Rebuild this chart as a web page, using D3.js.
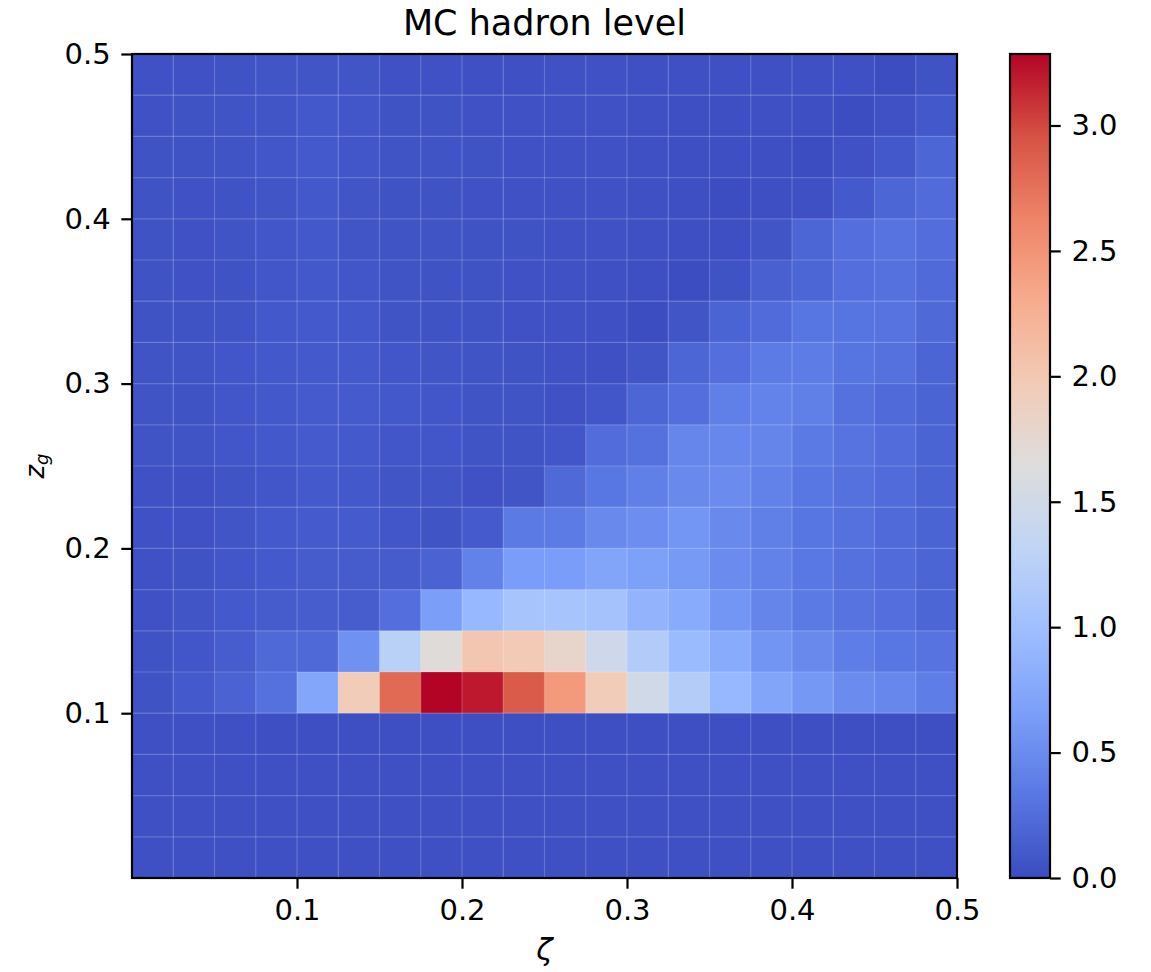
<!DOCTYPE html>
<html>
<head>
<meta charset="utf-8">
<script src="https://cdn.jsdelivr.net/npm/d3@7"></script>
<style>
  html, body { margin: 0; padding: 0; background: #ffffff; }
  svg { display: block; font-family: "DejaVu Sans", sans-serif; }
</style>
</head>
<body>
<svg id="chart" width="1151" height="972"></svg>
<script>
// ---------------- data ----------------
const chartTitle = "MC hadron level";
// bin edges (20 bins each, width 0.025)
const zetaEdges = d3.range(21).map(i => +(i * 0.025).toFixed(3));
const zgEdges = d3.range(21).map(i => +(i * 0.025).toFixed(3));
const xTickValues = [0.1, 0.2, 0.3, 0.4, 0.5];
const yTickValues = [0.1, 0.2, 0.3, 0.4, 0.5];
const cbarTickValues = [0.0, 0.5, 1.0, 1.5, 2.0, 2.5, 3.0];
const colorMax = 3.285;
// coolwarm anchor colours
const coolwarmColors = ["#3b4cc0", "#5977e3", "#7b9ff9", "#9ebeff", "#c0d4f5", "#dddddd",
                        "#f2cbb7", "#f7ac8e", "#ee8468", "#d65244", "#b40426"];
// density rows: first row = top z_g bin (0.475-0.5), last = bottom (0-0.025); columns = zeta bins
const density = [
  [0.04,0.04,0.05,0.07,0.07,0.07,0.04,0.04,0.03,0.03, 0.04,0.04,0.03,0.03,0.03,0.03,0.03,0.03,0.01,0.05],
  [0.04,0.05,0.06,0.07,0.09,0.08,0.05,0.05,0.04,0.04, 0.04,0.04,0.03,0.02,0.02,0.03,0.02,0.01,0.04,0.09],
  [0.05,0.05,0.06,0.08,0.10,0.08,0.06,0.06,0.05,0.04, 0.04,0.04,0.03,0.02,0.02,0.02,0.01,0.04,0.09,0.20],
  [0.05,0.04,0.05,0.07,0.09,0.07,0.05,0.05,0.04,0.04, 0.04,0.04,0.03,0.02,0.01,0.02,0.03,0.10,0.20,0.24],
  [0.05,0.04,0.06,0.08,0.09,0.07,0.06,0.06,0.05,0.05, 0.04,0.04,0.03,0.02,0.02,0.07,0.20,0.27,0.30,0.26],
  [0.05,0.04,0.05,0.08,0.09,0.08,0.06,0.05,0.05,0.04, 0.04,0.03,0.02,0.01,0.05,0.15,0.20,0.27,0.28,0.23],
  [0.05,0.05,0.06,0.09,0.10,0.09,0.06,0.05,0.05,0.04, 0.04,0.03,0.01,0.07,0.18,0.24,0.32,0.31,0.30,0.22],
  [0.06,0.06,0.08,0.09,0.10,0.10,0.08,0.07,0.06,0.05, 0.04,0.03,0.07,0.20,0.27,0.36,0.37,0.31,0.28,0.19],
  [0.06,0.05,0.08,0.09,0.11,0.11,0.09,0.08,0.06,0.06, 0.04,0.08,0.20,0.27,0.40,0.43,0.40,0.28,0.23,0.18],
  [0.06,0.06,0.08,0.09,0.11,0.10,0.08,0.08,0.06,0.06, 0.08,0.25,0.28,0.45,0.46,0.44,0.35,0.30,0.25,0.18],
  [0.04,0.03,0.06,0.08,0.10,0.09,0.07,0.07,0.04,0.07, 0.22,0.33,0.40,0.48,0.50,0.42,0.33,0.28,0.24,0.18],
  [0.04,0.04,0.07,0.10,0.11,0.11,0.08,0.06,0.11,0.35, 0.36,0.48,0.52,0.58,0.48,0.40,0.32,0.28,0.23,0.18],
  [0.04,0.05,0.08,0.10,0.12,0.12,0.12,0.17,0.42,0.64, 0.64,0.72,0.68,0.62,0.50,0.42,0.34,0.28,0.24,0.19],
  [0.04,0.07,0.10,0.12,0.13,0.13,0.27,0.66,0.92,1.08, 1.08,1.05,0.88,0.78,0.58,0.44,0.35,0.30,0.27,0.20],
  [0.05,0.08,0.13,0.22,0.22,0.54,1.25,1.68,2.02,1.98, 1.80,1.47,1.18,0.95,0.78,0.57,0.48,0.38,0.33,0.30],
  [0.05,0.10,0.17,0.28,0.73,1.95,2.80,3.285,3.20,2.90, 2.45,1.95,1.50,1.20,0.92,0.72,0.60,0.50,0.46,0.38],
  [0.03,0.03,0.03,0.02,0.02,0.02,0.02,0.02,0.02,0.02, 0.02,0.02,0.02,0.02,0.02,0.02,0.02,0.02,0.02,0.02],
  [0.03,0.03,0.03,0.03,0.03,0.03,0.03,0.03,0.03,0.03, 0.03,0.03,0.03,0.03,0.03,0.03,0.03,0.03,0.03,0.03],
  [0.03,0.03,0.03,0.03,0.03,0.03,0.03,0.03,0.03,0.03, 0.03,0.03,0.03,0.03,0.03,0.03,0.03,0.03,0.03,0.03],
  [0.03,0.03,0.03,0.03,0.03,0.03,0.03,0.03,0.03,0.03, 0.03,0.03,0.03,0.03,0.03,0.03,0.03,0.03,0.03,0.03]
];

// ---------------- layout ----------------
const svg = d3.select("#chart");
const plot = { left: 132, top: 54, width: 825, height: 824 };
const cbar = { left: 1010, top: 54, width: 40, height: 824 };
const tickLen = 10.7, tickPad = 10.7, tickFont = 29;

const x = d3.scaleLinear().domain([0, 0.5]).range([plot.left, plot.left + plot.width]);
const y = d3.scaleLinear().domain([0, 0.5]).range([plot.top + plot.height, plot.top]);
const nStops = coolwarmColors.length;
const color = d3.scaleLinear()
  .domain(coolwarmColors.map((c, i) => colorMax * i / (nStops - 1)))
  .range(coolwarmColors)
  .interpolate(d3.interpolateRgb)
  .clamp(true);

// cells
const cells = [];
density.forEach((row, r) => {
  const yi = density.length - 1 - r;
  row.forEach((v, c) => cells.push({ x0: zetaEdges[c], x1: zetaEdges[c + 1], y0: zgEdges[yi], y1: zgEdges[yi + 1], v }));
});
svg.append("g").selectAll("rect").data(cells).join("rect")
  .attr("x", d => x(d.x0))
  .attr("y", d => y(d.y1))
  .attr("width", d => x(d.x1) - x(d.x0) + 0.5)
  .attr("height", d => y(d.y0) - y(d.y1) + 0.5)
  .attr("fill", d => color(d.v));

// faint cell edges
const edges = svg.append("g").attr("stroke", "#ffffff").attr("stroke-opacity", 0.2).attr("stroke-width", 1.2);
edges.selectAll("line.v").data(zetaEdges.slice(1, -1)).join("line").attr("class", "v")
  .attr("x1", d => x(d)).attr("x2", d => x(d)).attr("y1", plot.top).attr("y2", plot.top + plot.height);
edges.selectAll("line.h").data(zgEdges.slice(1, -1)).join("line").attr("class", "h")
  .attr("y1", d => y(d)).attr("y2", d => y(d)).attr("x1", plot.left).attr("x2", plot.left + plot.width);

// frame
svg.append("rect").attr("x", plot.left).attr("y", plot.top).attr("width", plot.width).attr("height", plot.height)
  .attr("fill", "none").attr("stroke", "#000").attr("stroke-width", 2.2);

function styleAxis(g) {
  g.select(".domain").remove();
  g.selectAll(".tick line").attr("stroke", "#000").attr("stroke-width", 2.2);
  g.selectAll(".tick text").attr("font-size", tickFont).attr("fill", "#000").attr("font-family", "DejaVu Sans");
}

svg.append("g").attr("transform", `translate(0,${plot.top + plot.height})`)
  .call(d3.axisBottom(x).tickValues(xTickValues).tickFormat(d3.format(".1f")).tickSize(tickLen).tickPadding(tickPad))
  .call(styleAxis);
svg.append("g").attr("transform", `translate(${plot.left},0)`)
  .call(d3.axisLeft(y).tickValues(yTickValues).tickFormat(d3.format(".1f")).tickSize(tickLen).tickPadding(tickPad))
  .call(styleAxis);

// title and labels
svg.append("text").attr("x", plot.left + plot.width / 2).attr("y", 35).attr("text-anchor", "middle")
  .attr("font-size", 35).attr("fill", "#000").text(chartTitle);
svg.append("text").attr("x", plot.left + plot.width / 2).attr("y", 960).attr("text-anchor", "middle")
  .attr("font-size", 30).attr("font-style", "italic").attr("fill", "#000").text("ζ");
const yl = svg.append("text").attr("transform", `translate(44,${plot.top + plot.height / 2}) rotate(-90)`)
  .attr("text-anchor", "middle").attr("font-size", 26).attr("font-style", "italic").attr("fill", "#000");
yl.append("tspan").text("z");
yl.append("tspan").attr("font-size", 18).attr("dy", 4).text("g");

// colorbar
const cy = d3.scaleLinear().domain([0, colorMax]).range([cbar.top + cbar.height, cbar.top]);
const defs = svg.append("defs");
const grad = defs.append("linearGradient").attr("id", "cw").attr("x1", 0).attr("y1", 1).attr("x2", 0).attr("y2", 0);
grad.selectAll("stop").data(coolwarmColors).join("stop")
  .attr("offset", (d, i) => i / (nStops - 1)).attr("stop-color", d => d);
svg.append("rect").attr("x", cbar.left).attr("y", cbar.top).attr("width", cbar.width).attr("height", cbar.height)
  .attr("fill", "url(#cw)");
svg.append("rect").attr("x", cbar.left).attr("y", cbar.top).attr("width", cbar.width).attr("height", cbar.height)
  .attr("fill", "none").attr("stroke", "#000").attr("stroke-width", 2.2);
svg.append("g").attr("transform", `translate(${cbar.left + cbar.width},0)`)
  .call(d3.axisRight(cy).tickValues(cbarTickValues).tickFormat(d3.format(".1f")).tickSize(tickLen).tickPadding(tickPad))
  .call(styleAxis);
</script>
</body>
</html>
